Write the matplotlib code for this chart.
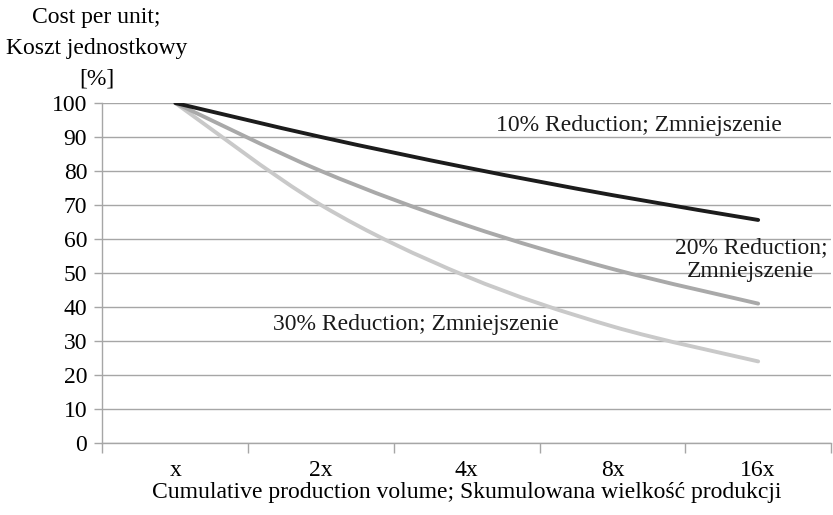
import matplotlib.pyplot as plt
from matplotlib.path import Path
from matplotlib.patches import PathPatch

plt.rcParams['font.family'] = ['Liberation Serif', 'DejaVu Serif']

categories = ['x', '2x', '4x', '8x', '16x']
red_10 = [100, 90, 81, 72.9, 65.6]
red_20 = [100, 80, 64, 51.2, 41.0]
red_30 = [100, 70, 49, 34.3, 24.0]

FS = 17


def smooth_path(xs, ys):
    # cubic bezier through every point, like a spreadsheet "smoothed line"
    verts = [(xs[0], ys[0])]
    codes = [Path.MOVETO]
    n = len(xs)
    for i in range(n - 1):
        x0, y0 = (xs[i - 1], ys[i - 1]) if i > 0 else (xs[i], ys[i])
        x1, y1 = xs[i], ys[i]
        x2, y2 = xs[i + 1], ys[i + 1]
        x3, y3 = (xs[i + 2], ys[i + 2]) if i + 2 < n else (x2, y2)
        c1 = (x1 + (x2 - x0) / 6, y1 + (y2 - y0) / 6)
        c2 = (x2 - (x3 - x1) / 6, y2 - (y3 - y1) / 6)
        verts += [c1, c2, (x2, y2)]
        codes += [Path.CURVE4] * 3
    return Path(verts, codes)


fig = plt.figure(figsize=(8.33, 5.15), dpi=100)
ax = fig.add_axes([0.123, 0.1398, 0.8746, 0.6602])

xs = list(range(len(categories)))
for vals, col in [(red_30, '#c9c9c9'), (red_20, '#a9a9a9'), (red_10, '#1c1c1c')]:
    ax.add_patch(PathPatch(smooth_path(xs, vals), facecolor='none',
                           edgecolor=col, lw=2.8, capstyle='round', zorder=3))

ax.set_xlim(-0.5, 4.5)
ax.set_ylim(0, 100)
ax.set_yticks(range(0, 101, 10))
ax.yaxis.grid(True, color='#a6a6a6', lw=1)
ax.set_axisbelow(True)

ax.set_xticks(xs)
ax.set_xticklabels(categories)
ax.set_xticks([i + 0.5 for i in range(-1, len(categories))], minor=True)
ax.tick_params(axis='x', which='major', length=0, pad=12, labelsize=FS)
ax.tick_params(axis='x', which='minor', length=7, color='#a6a6a6', width=1)
ax.tick_params(axis='y', length=6, color='#a6a6a6', width=1, pad=5, labelsize=FS)

for side in ['top', 'right']:
    ax.spines[side].set_visible(False)
for side in ['left', 'bottom']:
    ax.spines[side].set_color('#a6a6a6')
    ax.spines[side].set_linewidth(1)

ax.set_xlabel('Cumulative production volume; Skumulowana wielkość produkcji',
              fontsize=FS, labelpad=1)
fig.text(0.116, 0.986, 'Cost per unit;\nKoszt jednostkowy\n[%]', ha='center',
         va='top', fontsize=FS, linespacing=1.6)

ax.text(3.18, 93.5, '10% Reduction; Zmniejszenie', ha='center', va='center',
        fontsize=FS, color='#1a1a1a')
ax.text(3.95, 54, '20% Reduction;\nZmniejszenie', ha='center', va='center',
        fontsize=FS, color='#1a1a1a', linespacing=1.2)
ax.text(1.65, 35, '30% Reduction; Zmniejszenie', ha='center', va='center',
        fontsize=FS, color='#1a1a1a')

fig.savefig('out.png', dpi=100)
